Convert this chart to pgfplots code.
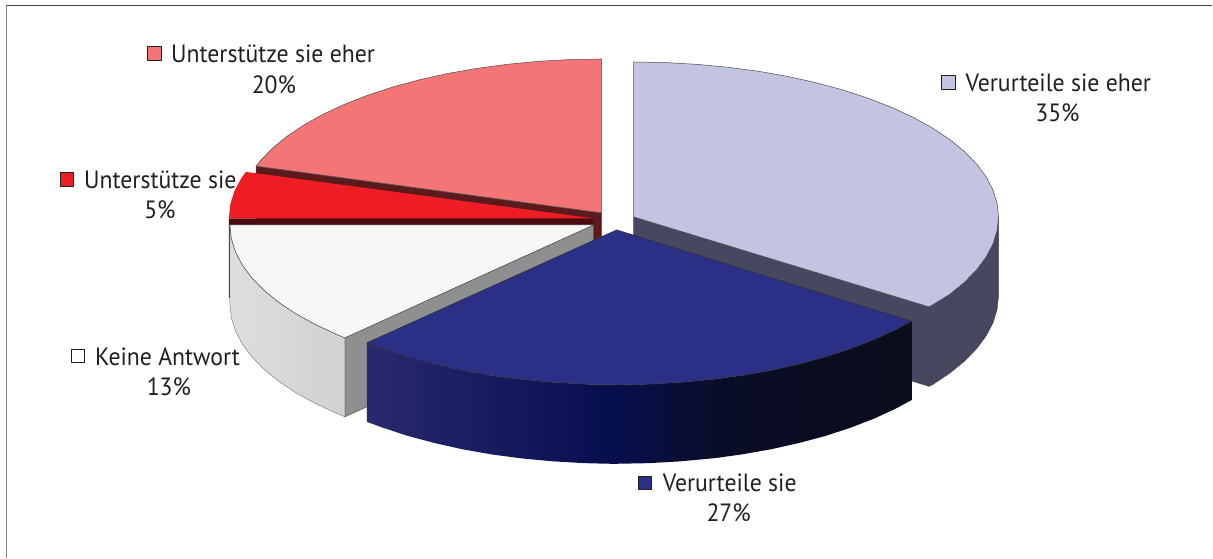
\documentclass[border=0pt]{standalone}
\usepackage{fontspec}
\setmainfont[FakeStretch=0.95]{PT Sans}
\usepackage{pgfplots}
\pgfplotsset{compat=1.18}
\definecolor{lilac}{RGB}{195,195,226}
\definecolor{lilacside}{RGB}{71,71,95}
\definecolor{navy}{RGB}{43,47,133}
\definecolor{salmon}{RGB}{243,117,118}
\definecolor{salmonside}{RGB}{92,26,28}
\definecolor{brightred}{RGB}{238,29,36}
\definecolor{redside}{RGB}{74,12,14}
\definecolor{offwhite}{RGB}{247,247,245}
\definecolor{greyside}{RGB}{142,144,143}
\definecolor{inktext}{RGB}{35,31,32}
\definecolor{navyA}{RGB}{41,41,112}
\definecolor{navyB}{RGB}{7,14,78}
\definecolor{navyC}{RGB}{10,13,40}
\definecolor{navyD}{RGB}{10,13,26}
\begin{document}
\begin{tikzpicture}
\begin{axis}[
  scale only axis, width=1213pt, height=558pt,
  xmin=0, xmax=1213, ymin=0, ymax=558,
  y dir=reverse, hide axis, clip=false,
  every axis plot/.append style={line width=0.5pt, line join=round},
]
  %% page extent and frame
  \addplot[draw=none] coordinates {(0,0)(1213,558)};
  \addplot[draw=black!75, line width=1.2pt] coordinates {(1213,5.5)(6.5,5.5)};
  \addplot[draw=black!50, line width=1.2pt] coordinates {(6.5,5)(6.5,558)};

  %% Verurteile sie eher
  \addplot[fill=lilacside, draw=black!70] coordinates {
    (999,217)(999,296)(997.6,309.5)(993.5,322.9)(986.6,336.1)(977,349)
    (964.8,361.5)(950.1,373.5)(933,384.9)(929.5,386.5)(929.5,307)
  } -- cycle;
  \addplot[fill=lilacside, draw=black!70] coordinates {
    (634,217)(929.5,307)(929.5,386.5)(634,296)
  } -- cycle;
  \addplot[fill=lilac, draw=black!70] coordinates {
    (634,62)(665.8,62.6)(697.4,64.4)(728.5,67.3)(758.8,71.3)(788.3,76.5)(816.5,82.8)
    (843.4,90)(868.6,98.3)(892.1,107.4)(913.6,117.4)(933,128.1)(950.1,139.5)
    (964.8,151.5)(977,164)(986.6,176.9)(993.5,190.1)(997.6,203.5)(999,217)
    (997.6,230.5)(993.5,243.9)(986.6,257.1)(977,270)(964.8,282.5)(950.1,294.5)
    (933,305)(929.5,307)(634,217)
  } -- cycle;

  %% Unterstuetze sie eher
  \addplot[fill=salmonside, draw=black!70] coordinates {
    (256.2,166.2)(602,213)(602,292)(256.2,245)
  } -- cycle;
  \addplot[fill=salmon, draw=black!70] coordinates {
    (602,59)(570.3,59.6)(539,61.3)(508,64.3)(477.9,68.3)(448.6,73.4)(420.5,79.6)
    (393.8,86.8)(368.7,95)(345.3,104.1)(323.9,114)(304.6,124.7)(287.6,136)
    (273,147.9)(260.9,160.3)(256.2,166.2)(602,213)
  } -- cycle;

  %% Unterstuetze sie
  \addplot[fill=redside, draw=none] coordinates {
    (229,218.5)(593.5,218.5)(593.5,297)(229,298)
  } -- cycle;
  \addplot[fill=brightred, draw=none] coordinates {
    (246,172)(241.6,178)(234.6,191)(230.4,204.5)(229,218.5)(593.5,218.5)
  } -- cycle;

  %% Keine Antwort
  \addplot[fill=greyside, draw=black!70] coordinates {
    (594,225)(345,338)(345,417)(594,304)
  } -- cycle;
  \addplot[left color=black!13, middle color=black!11, right color=black!18,
           draw=black!50] coordinates {
    (230,225)(230,304)(231.4,317.5)(235.5,330.9)(242.4,344.1)(252,357)(264.2,369.5)
    (278.9,381.5)(296,392.9)(315.4,403.6)(336.9,413.6)(345,417)(345,338)
    (336.9,334.6)(315.4,324.6)(296,313.9)(278.9,302.5)(264.2,290.5)(252,278)
    (242.4,265.1)(235.5,251.9)(231.4,238.5)
  } -- cycle;
  \addplot[fill=offwhite, draw=black!70] coordinates {
    (230,225)(231.4,238.5)(235.5,251.9)(242.4,265.1)(252,278)(264.2,290.5)
    (278.9,302.5)(296,313.9)(315.4,324.6)(336.9,334.6)(345,338)(594,225)
  } -- cycle;

  %% Verurteile sie
  \addplot[left color=navyA, right color=navyB, draw=none] coordinates {
    (367,343)(382.4,348.7)(407.6,357)(434.5,364.2)(462.7,370.5)(492.2,375.7)(522.5,379.7)
    (553.6,382.6)(585.2,384.4)(610.5,385)
    (610.5,464)(585.2,463.4)(553.6,461.6)(522.5,458.7)(492.2,454.7)(462.7,449.5)
    (434.5,443.2)(407.6,436)(382.4,427.7)(367,422)
  } -- cycle;
  \addplot[left color=navyB, right color=navyC, draw=none] coordinates {
    (610,385)(617,385)(648.8,384.4)(680.4,382.6)(711.5,379.7)(720.5,378.7)
    (720.5,457.7)(711.5,458.7)(680.4,461.6)(648.8,463.4)(617,464)(610,464)
  } -- cycle;
  \addplot[left color=navyC, right color=navyD, draw=none] coordinates {
    (720,378.7)(741.8,375.7)(771.3,370.5)(799.5,364.2)(826.4,357)(851.6,348.7)
    (875.1,339.6)(896.6,329.6)(912,321.3)
    (912,400.3)(896.6,408.6)(875.1,418.6)(851.6,427.7)(826.4,436)(799.5,443.2)
    (771.3,449.5)(741.8,454.7)(720,457.7)
  } -- cycle;
  \addplot[fill=navy, draw=black!80] coordinates {
    (617,230)(912,321.3)(896.6,329.6)(875.1,339.6)(851.6,348.7)(826.4,357)(799.5,364.2)
    (771.3,370.5)(741.8,375.7)(711.5,379.7)(680.4,382.6)(648.8,384.4)(617,385)
    (585.2,384.4)(553.6,382.6)(522.5,379.7)(492.2,375.7)(462.7,370.5)(434.5,364.2)
    (407.6,357)(382.4,348.7)(367,343)
  } -- cycle;

  %% legend squares
  \addplot[only marks, mark=square*, mark size=6.6pt, mark options={fill=salmon, draw=inktext, line width=1pt}]
    coordinates {(154.5,53.5)};
  \addplot[only marks, mark=square*, mark size=6.6pt, mark options={fill=brightred, draw=inktext, line width=1pt}]
    coordinates {(67,179.5)};
  \addplot[only marks, mark=square*, mark size=6.6pt, mark options={fill=white, draw=inktext, line width=1pt}]
    coordinates {(78,356.5)};
  \addplot[only marks, mark=square*, mark size=6.6pt, mark options={fill=navy, draw=inktext, line width=1pt}]
    coordinates {(645.5,483)};
  \addplot[only marks, mark=square*, mark size=6.6pt, mark options={fill=lilac, draw=inktext, line width=1pt}]
    coordinates {(949,82.5)};

  %% labels
  \begin{scope}[every node/.style={font=\fontsize{25}{29}\selectfont, text=inktext, inner sep=0pt}]
    \node[anchor=base west] at (axis cs:171,62.5) {Unterstütze sie eher};
    \node[anchor=base] at (axis cs:274,93.5) {20\%};
    \node[anchor=base west] at (axis cs:84,188.5) {Unterstütze sie};
    \node[anchor=base] at (axis cs:160,219) {5\%};
    \node[anchor=base west] at (axis cs:95,365.5) {Keine Antwort};
    \node[anchor=base] at (axis cs:169,396) {13\%};
    \node[anchor=base west] at (axis cs:663,491.5) {Verurteile sie};
    \node[anchor=base] at (axis cs:729,522) {27\%};
    \node[anchor=base west] at (axis cs:966,91.5) {Verurteile sie eher};
    \node[anchor=base] at (axis cs:1058,122) {35\%};
  \end{scope}
\end{axis}
\end{tikzpicture}
\end{document}
